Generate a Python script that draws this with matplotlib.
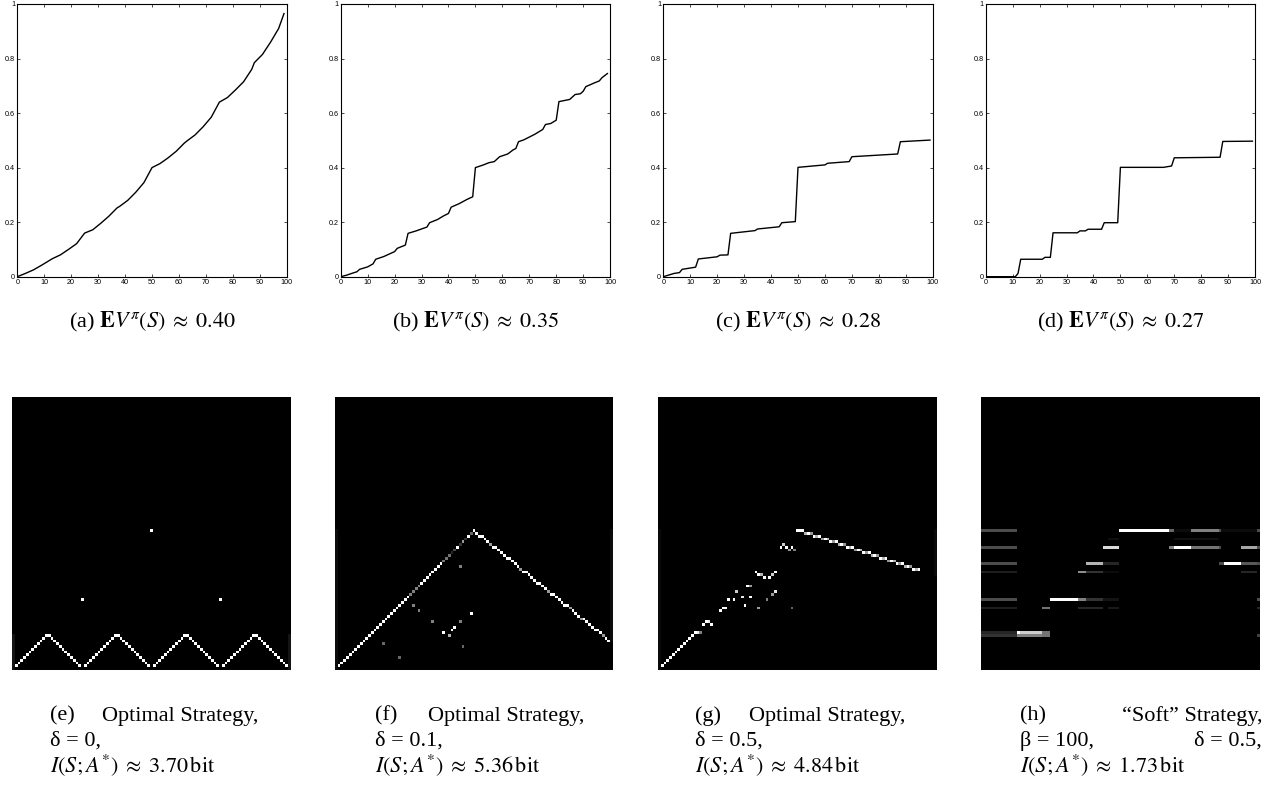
import matplotlib
matplotlib.use("Agg")
import matplotlib.pyplot as plt
import numpy as np

plt.rcParams['font.family'] = ['Liberation Serif', 'DejaVu Serif']
plt.rcParams['mathtext.fontset'] = 'stix'

# value functions (state, value)
a_x = [0, 3, 6, 9, 12, 13, 16, 19, 22, 25, 28, 31, 34, 37, 38, 41, 44, 47, 50,
       53, 56, 59, 62, 63, 66, 69, 72, 75, 78, 81, 84, 87, 88, 91, 94, 97, 99]
a_y = [0, 0.012, 0.025, 0.042, 0.06, 0.066, 0.08, 0.1, 0.121, 0.16, 0.172, 0.196,
       0.222, 0.252, 0.258, 0.28, 0.31, 0.345, 0.40, 0.415, 0.436, 0.46, 0.49,
       0.498, 0.52, 0.55, 0.585, 0.64, 0.657, 0.685, 0.715, 0.76, 0.785, 0.815,
       0.86, 0.91, 0.965]

b_x = [0, 2, 5, 6, 7, 10, 12, 13, 16, 20, 21, 24, 25, 28, 32, 33, 36, 38, 40, 41,
       44, 47, 49, 50, 53, 55, 57, 59, 62, 64, 65, 66, 68, 72, 75, 76, 78, 80, 81,
       85, 87, 89, 90, 91, 94, 96, 97, 99]
b_y = [0, 0.005, 0.015, 0.018, 0.027, 0.036, 0.047, 0.064, 0.074, 0.092, 0.104,
       0.116, 0.159, 0.168, 0.182, 0.198, 0.21, 0.222, 0.232, 0.255, 0.268, 0.284,
       0.293, 0.40, 0.41, 0.418, 0.422, 0.44, 0.45, 0.465, 0.47, 0.495, 0.502,
       0.522, 0.54, 0.558, 0.562, 0.574, 0.642, 0.65, 0.668, 0.671, 0.68, 0.697,
       0.71, 0.718, 0.73, 0.745]

c_x = [0, 4, 6, 7, 12, 13, 20, 21, 24, 25, 34, 35, 43, 44, 49, 50, 60, 61, 69, 70,
       87, 88, 99]
c_y = [0, 0.012, 0.015, 0.027, 0.035, 0.065, 0.073, 0.079, 0.08, 0.159, 0.169,
       0.175, 0.183, 0.198, 0.202, 0.401, 0.41, 0.416, 0.422, 0.44, 0.45, 0.495,
       0.501]

d_x = [0, 11, 12, 13, 21, 22, 24, 25, 34, 35, 37, 38, 43, 44, 49, 50, 66, 69, 70,
       87, 88, 99]
d_y = [0, 0, 0.012, 0.064, 0.064, 0.071, 0.071, 0.161, 0.161, 0.168, 0.168, 0.174,
       0.174, 0.198, 0.198, 0.401, 0.401, 0.406, 0.436, 0.438, 0.496, 0.497]

top_captions = [r'(a) $\mathbf{E}V^{\pi}(S)\;\approx\;0.40$',
                r'(b) $\mathbf{E}V^{\pi}(S)\;\approx\;0.35$',
                r'(c) $\mathbf{E}V^{\pi}(S)\;\approx\;0.28$',
                r'(d) $\mathbf{E}V^{\pi}(S)\;\approx\;0.27$']

# (e) chosen stake for states 1..99
e_actions = [1, 2, 3, 4, 5, 6, 7, 8, 9, 10, 11, 12,
             12, 11, 10, 9, 8, 7, 6, 5, 4, 3, 2, 1, 25,
             1, 2, 3, 4, 5, 6, 7, 8, 9, 10, 11, 12,
             12, 11, 10, 9, 8, 7, 6, 5, 4, 3, 2, 1, 50,
             1, 2, 3, 4, 5, 6, 7, 8, 9, 10, 11, 12,
             12, 11, 10, 9, 8, 7, 6, 5, 4, 3, 2, 1, 25,
             1, 2, 3, 4, 5, 6, 7, 8, 9, 10, 11, 12,
             12, 11, 10, 9, 8, 7, 6, 5, 4, 3, 2, 1]

# (f) stake for states 1..99 and brightness
f_actions = list(range(1, 51)) + [
    49, 48, 48, 47, 46, 45, 44, 44, 43, 42, 41, 40, 40, 39, 38, 37, 36, 35, 35,
    34, 33, 32, 31, 31, 30, 29, 28, 27, 27, 26, 25, 24, 23, 23, 22, 21, 20, 19,
    18, 18, 17, 16, 15, 14, 14, 13, 12, 11, 10]
f_levels = [1.0] * 26 + [0.5, 0.5, 0.5, 0.5] + [1.0] * 8 + [0.45, 0.45, 0.45] + \
    [0.15, 0.3, 1.0, 0.2, 0.6, 0.2, 1.0, 0.4, 1.0] + \
    [1.0] * 5 + [0.6] + [1.0] * 10 + [0.6] + [1.0] * 9 + [0.6] + [1.0] * 7 + \
    [0.6] + [1.0] * 3 + [0.6] + [1.0] * 7 + [0.6, 1.0, 1.0]
f_extra_s = [45, 49, 45, 43, 42, 41, 39, 35, 30, 28, 17, 23, 46]
f_extra_a = [37, 20, 17, 15, 14, 12, 13, 17, 21, 23, 9, 4, 8]
f_extra_v = [0.5, 1.0, 0.5, 1.0, 1.0, 0.7, 1.0, 0.5, 0.5, 0.5, 0.4, 0.4, 0.4]

# (g) bright cells
g_s = [1, 2, 3, 4, 5, 6, 7, 8, 9, 10, 11, 12, 13, 14, 15,
       16, 17, 18, 19, 22, 23, 24, 25, 27, 28, 30, 31, 32, 33, 33, 36, 39, 41, 42, 48,
       35, 36, 37, 38, 40, 41, 42, 44, 45, 46, 47, 48, 49,
       50, 51, 52, 53, 54, 55, 56, 57, 58, 59, 60, 61, 62, 63, 64, 65, 66, 67, 68,
       69, 70, 71, 72, 73, 74, 75, 76, 77, 78, 79, 80, 81, 82, 83, 84, 85, 86, 87,
       88, 89, 90, 91, 92, 93, 94, 95, 96, 97, 98, 99]
g_a = [1, 2, 3, 4, 5, 6, 7, 8, 9, 10, 11, 12, 13, 13, 13,
       16, 17, 17, 16, 21, 22, 22, 25, 25, 28, 26, 23, 30, 30, 26, 22, 25, 27, 28, 22,
       35, 34, 34, 33, 33, 34, 35, 44, 45, 44, 43, 44, 43,
       50, 50, 50, 49, 49, 49, 48, 48, 48, 47, 47, 47, 46, 46, 46, 45, 45, 45, 44,
       44, 44, 43, 43, 43, 42, 42, 42, 41, 41, 41, 40, 40, 40, 39, 39, 39, 38, 38,
       38, 37, 37, 37, 36, 36, 36, 35, 35, 35, 34, 34]
g_v = [1.0] * 13 + [0.9, 0.5,
       1.0, 1.0, 0.9, 1.0, 1.0, 1.0, 1.0, 1.0, 1.0, 0.8, 0.9, 1.0, 1.0, 0.6, 1.0, 0.6,
       0.5, 0.6, 0.9, 0.4,
       1.0, 1.0, 0.7, 1.0, 1.0, 0.8, 1.0, 1.0, 0.8, 1.0, 0.6, 1.0, 0.5,
       1.0, 1.0, 1.0, 0.7, 1.0, 0.6, 1.0, 0.7, 1.0, 0.6, 1.0, 0.7, 1.0, 0.6, 1.0,
       0.7, 1.0, 0.6, 1.0, 0.7, 1.0, 0.6, 1.0, 0.7, 1.0, 0.6, 1.0, 0.7, 1.0, 0.6,
       1.0, 0.7, 1.0, 0.6, 1.0, 0.7, 1.0, 0.6, 1.0, 0.7, 1.0, 0.6, 1.0, 0.7, 1.0]

# (h) soft strategy: bars of (action, first state, last state, brightness)
h_bars = [(50, 0, 12, 0.3), (50, 50, 67, 1.0), (50, 68, 69, 0.4), (50, 70, 75, 0.05),
          (50, 76, 85, 0.5), (50, 86, 86, 0.3), (50, 87, 99, 0.05), (50, 100, 100, 0.3),
          (47, 46, 49, 0.06), (47, 70, 85, 0.06),
          (44, 0, 12, 0.3), (44, 44, 49, 0.85), (44, 68, 69, 0.5), (44, 70, 75, 1.0),
          (44, 76, 85, 0.45), (44, 86, 86, 0.3), (44, 94, 99, 0.65), (44, 100, 100, 0.3),
          (38, 0, 12, 0.3), (38, 38, 43, 0.7), (38, 44, 49, 0.15), (38, 86, 87, 0.3),
          (38, 88, 93, 1.0), (38, 94, 99, 0.35), (38, 100, 100, 0.3),
          (35, 0, 12, 0.12), (35, 35, 37, 0.55), (35, 38, 43, 0.2), (35, 44, 49, 0.05),
          (35, 94, 99, 0.15),
          (25, 0, 12, 0.3), (25, 25, 34, 1.0), (25, 35, 37, 0.5), (25, 38, 43, 0.2),
          (25, 44, 49, 0.08), (25, 100, 100, 0.3),
          (22, 0, 12, 0.12), (22, 22, 24, 0.45), (22, 35, 43, 0.15), (22, 46, 49, 0.1),
          (22, 100, 100, 0.15),
          (13, 0, 12, 0.15), (13, 13, 13, 1.0), (13, 14, 21, 0.8), (13, 22, 24, 0.45),
          (12, 0, 12, 0.2), (12, 13, 21, 0.5), (12, 22, 24, 0.45), (12, 100, 100, 0.25)]

bottom_labels = ['(e)', '(f)', '(g)', '(h)']
bottom_titles = ['Optimal Strategy,', 'Optimal Strategy,', 'Optimal Strategy,',
                 '\u201cSoft\u201d Strategy,']
bottom_params = [['\u03b4 = 0,', ''], ['\u03b4 = 0.1,', ''], ['\u03b4 = 0.5,', ''],
                 ['\u03b2 = 100,', '\u03b4 = 0.5,']]
bottom_info = [r'$I(S;A^{*})\;\approx\;3.70\,\mathrm{bit}$',
               r'$I(S;A^{*})\;\approx\;5.36\,\mathrm{bit}$',
               r'$I(S;A^{*})\;\approx\;4.84\,\mathrm{bit}$',
               r'$I(S;A^{*})\;\approx\;1.73\,\mathrm{bit}$']

W, H = 1271, 786
fig = plt.figure(figsize=(W / 100, H / 100), dpi=100)


def px_axes(x0, x1, ytop, ybot):
    return fig.add_axes([x0 / W, (H - ybot) / H, (x1 - x0) / W, (ybot - ytop) / H])


# top row: value functions
lefts = [17.3, 340.7, 663.3, 985.7]
series = [(a_x, a_y), (b_x, b_y), (c_x, c_y), (d_x, d_y)]
for i, (xs, ys) in enumerate(series):
    ax = px_axes(lefts[i], lefts[i] + 269.4, 4, 276.7)
    ax.plot(xs, ys, color='black', lw=1.0)
    ax.set_xlim(0, 100)
    ax.set_ylim(0, 1)
    ax.set_xticks(np.arange(0, 101, 10))
    ax.set_yticks([0, 0.2, 0.4, 0.6, 0.8, 1])
    ax.set_yticklabels(['0', '0.2', '0.4', '0.6', '0.8', '1'])
    ax.tick_params(direction='in', top=True, right=True, length=2.5, width=0.5,
                   labelsize=5.2, pad=1.5)
    for lab in ax.get_xticklabels() + ax.get_yticklabels():
        lab.set_family(['Liberation Sans Narrow', 'Liberation Sans'])
    for sp in ax.spines.values():
        sp.set_linewidth(0.8)
    fig.text((lefts[i] + 134.7) / W, (H - 322) / H, top_captions[i],
             ha='center', va='center', fontsize=16)


def blank():
    return np.zeros((99, 101))


img_e = blank()
for s, a in zip(range(1, 100), e_actions):
    img_e[a, s] = 1.0
img_e[0:13, 0] = 0.08
img_e[0:13, 100] = 0.08

img_f = blank()
for s, a, v in zip(range(1, 100), f_actions, f_levels):
    img_f[a, s] = v
for s, a, v in zip(f_extra_s, f_extra_a, f_extra_v):
    img_f[a, s] = v
img_f[0:51, 0] = 0.05
img_f[10:51, 100] = 0.05

img_g = blank()
for s, a, v in zip(g_s, g_a, g_v):
    img_g[a, s] = v
img_g[0:51, 0] = 0.04
img_g[34:51, 100] = 0.04

img_h = blank()
for a, s0, s1, v in h_bars:
    img_h[a, s0:s1 + 1] = v

hm_lefts = [12, 335.3, 658, 981]
hm_widths = [279, 278, 278.7, 278.7]
text_left = [50, 375, 695, 1020]
text_right = [258, 584, 905, 1262]
for i, img in enumerate([img_e, img_f, img_g, img_h]):
    ax = px_axes(hm_lefts[i], hm_lefts[i] + hm_widths[i], 397, 670)
    ax.imshow(img, cmap='gray', vmin=0, vmax=1, origin='lower', aspect='auto',
              interpolation='nearest')
    ax.axis('off')
    fig.text(text_left[i] / W, (H - 716) / H, bottom_labels[i], ha='left',
             va='center', fontsize=16)
    fig.text(text_right[i] / W, (H - 716) / H, bottom_titles[i], ha='right',
             va='center', fontsize=16)
    fig.text(text_left[i] / W, (H - 741) / H, bottom_params[i][0], ha='left',
             va='center', fontsize=16)
    if bottom_params[i][1]:
        fig.text(text_right[i] / W, (H - 741) / H, bottom_params[i][1], ha='right',
                 va='center', fontsize=16)
    fig.text(text_left[i] / W, (H - 765) / H, bottom_info[i], ha='left',
             va='center', fontsize=16)

fig.savefig('out.png', dpi=100)
